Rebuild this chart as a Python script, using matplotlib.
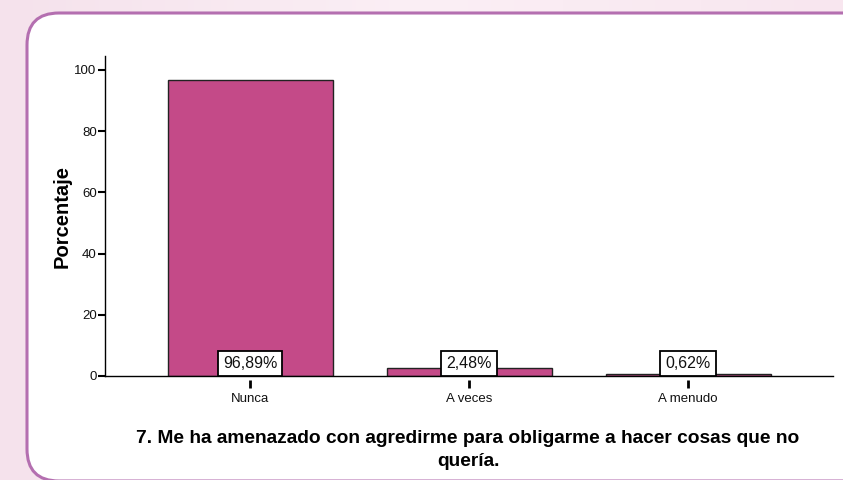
import matplotlib
matplotlib.use("Agg")
import matplotlib.pyplot as plt
from matplotlib.patches import FancyBboxPatch
from matplotlib.transforms import blended_transform_factory
from matplotlib.colors import LinearSegmentedColormap
import numpy as np

categories = ["Nunca", "A veces", "A menudo"]
values = [96.89, 2.48, 0.62]
value_labels = ["96,89%", "2,48%", "0,62%"]
yticks = [0, 20, 40, 60, 80, 100]
title = "7. Me ha amenazado con agredirme para obligarme a hacer cosas que no\nquería."
ylabel = "Porcentaje"

plt.rcParams['font.family'] = ["Liberation Sans Narrow", "Liberation Sans", "DejaVu Sans"]

W, H = 843, 480
fig = plt.figure(figsize=(W / 100, H / 100), dpi=100)
fig.patch.set_facecolor("#f8e9f1")

# background frame
bg = fig.add_axes([0, 0, 1, 1], zorder=0)
bg.set_xlim(0, W)
bg.set_ylim(H, 0)
bg.axis("off")
grad = np.linspace(0, 1, 256)[None, :]
cm = LinearSegmentedColormap.from_list("pk", ["#f5e2ec", "#fbeff5", "#f8e6ef"])
bg.imshow(grad, extent=[0, W, H, 0], aspect="auto", cmap=cm, zorder=0)
box = FancyBboxPatch((27, 13), 900, 468, boxstyle="round,pad=0,rounding_size=32",
                     facecolor="white", edgecolor="#b46fb0", linewidth=2.2, zorder=1)
bg.add_patch(box)

# main axes
x0, x1 = 105, 833
yb, yt = 376, 56
ax = fig.add_axes([x0 / W, (H - yb) / H, (x1 - x0) / W, (yb - yt) / H], zorder=2)
ax.patch.set_alpha(0)
x = np.arange(len(categories))
px_per_unit = 219.0
ax.set_xlim((x0 - 250) / px_per_unit, (x1 - 250) / px_per_unit)
ax.set_ylim(0, (yb - yt) / 3.06)

ax.bar(x, values, width=165 / px_per_unit, color="#c44a88", edgecolor="#222222", linewidth=1.0, zorder=2)

fs_val = 11.5
pad = 0.32
pad_px = pad * fs_val * 100 / 72
for xi, lab in zip(x, value_labels):
    ax.text(xi, pad_px / 3.06, lab, ha="center", va="bottom", fontsize=fs_val, color="#111111",
            bbox=dict(boxstyle=f"square,pad={pad}", facecolor="white", edgecolor="black", linewidth=1.3),
            zorder=4)

trans = blended_transform_factory(ax.transData, ax.transAxes)
ax.vlines(x, -0.0125, -0.037, transform=trans, colors="black", linewidth=2, clip_on=False)
for xi, c in zip(x, categories):
    ax.text(xi, -0.072, c, transform=trans, ha="center", va="center", fontsize=9.5, color="#111111")

ax.set_xticks([])
ax.set_yticks(yticks)
ax.set_yticklabels([str(t) for t in yticks], fontsize=9.5, color="#111111")
ax.tick_params(axis="y", direction="out", length=5, width=1.5, pad=1)
for s in ["top", "right"]:
    ax.spines[s].set_visible(False)
ax.spines["left"].set_linewidth(1)
ax.spines["bottom"].set_linewidth(1)

fig.text(62 / W, (H - 217) / H, ylabel, rotation=90, ha="center", va="center",
         fontsize=14.5, fontweight="bold", zorder=3)

fig.text(468 / W, (H - 450) / H, title, ha="center", va="center", fontsize=13.8,
         fontweight="bold", linespacing=1.4, zorder=3)

fig.savefig("out.png", dpi=100, facecolor=fig.get_facecolor())
